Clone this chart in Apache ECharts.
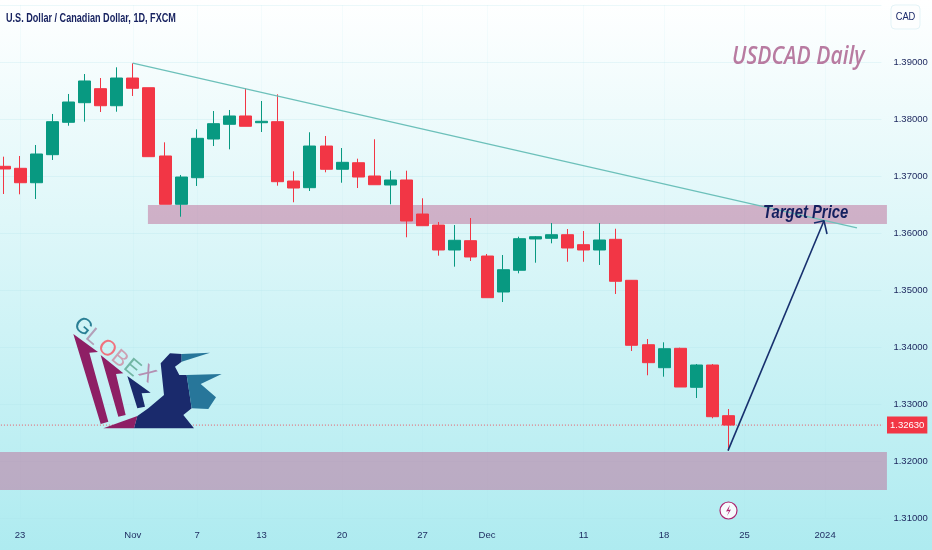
<!DOCTYPE html>
<html><head><meta charset="utf-8">
<style>html,body{margin:0;padding:0;background:#fff}#c{width:932px;height:550px}</style>
<script src="https://cdn.jsdelivr.net/npm/echarts@6/dist/echarts.min.js"></script>
</head><body><div id="c"></div>
<script>
const dates = ['Oct 20','Oct 23','Oct 24','Oct 25','Oct 26','Oct 27','Oct 30','Oct 31','Nov 1','Nov 2','Nov 3','Nov 6','Nov 7','Nov 8','Nov 9','Nov 10','Nov 13','Nov 14','Nov 15','Nov 16','Nov 17','Nov 20','Nov 21','Nov 22','Nov 23','Nov 24','Nov 27','Nov 28','Nov 29','Nov 30','Dec 1','Dec 4','Dec 5','Dec 6','Dec 7','Dec 8','Dec 11','Dec 12','Dec 13','Dec 14','Dec 15','Dec 18','Dec 19','Dec 20','Dec 21','Dec 22','Dec 25','Dec 26','Dec 27','Dec 28','Dec 29','Jan 1','Jan 2','Jan 3','Jan 4'];
const tickLabels = {'Oct 23':'23','Nov 1':'Nov','Nov 7':'7','Nov 13':'13','Nov 20':'20','Nov 27':'27','Dec 1':'Dec','Dec 11':'11','Dec 18':'18','Dec 25':'25','Jan 1':'2024'};
// [open, close, low, high]
const ohlc = [
[1.3717,1.37123,1.36684,1.37339],[1.37135,1.36882,1.36679,1.37351],[1.36882,1.37386,1.36596,1.37544],
[1.37374,1.37953,1.37281,1.38088],[1.37942,1.38298,1.37882,1.38439],[1.38286,1.38667,1.37953,1.38789],
[1.38532,1.38233,1.38123,1.38719],[1.38233,1.38719,1.38128,1.38907],[1.38719,1.38539,1.38404,1.38977],
[1.38549,1.37339,1.37339,1.38549],[1.37351,1.36504,1.36504,1.37591],[1.36504,1.36982,1.36286,1.37018],
[1.3697,1.37661,1.36825,1.37819],[1.37649,1.37918,1.37526,1.3814],[1.37907,1.38053,1.37468,1.38158],
[1.38053,1.37872,1.37872,1.38539],[1.37935,1.3796,1.37772,1.38316],[1.37953,1.369,1.3683,1.38433],
[1.36912,1.36789,1.36539,1.37082],[1.36795,1.37526,1.36737,1.37767],[1.37526,1.37118,1.37065,1.37702],
[1.37118,1.3724,1.36882,1.37491],[1.37233,1.36982,1.36789,1.37304],[1.37,1.36847,1.36847,1.37644],
[1.36842,1.3693,1.36504,1.37093],[1.3693,1.36211,1.35925,1.37093],[1.36333,1.36128,1.36128,1.36609],
[1.3614,1.35702,1.35602,1.36193],[1.35702,1.35872,1.35409,1.3614],[1.35865,1.35579,1.35509,1.36263],
[1.35596,1.34865,1.34865,1.35632],[1.34965,1.35356,1.34789,1.35614],[1.35346,1.359,1.35293,1.35935],
[1.35895,1.35935,1.35479,1.35947],[1.35907,1.3597,1.35819,1.36175],[1.3597,1.35737,1.35496,1.3607],
[1.35795,1.35702,1.35496,1.36035],[1.35702,1.35877,1.35439,1.36175],[1.35889,1.35153,1.3493,1.36075],
[1.3517,1.3403,1.3393,1.35175],[1.3404,1.33725,1.33504,1.3414],[1.33637,1.3397,1.33479,1.34082],
[1.33977,1.33298,1.33298,1.33988],[1.33293,1.33684,1.33105,1.33702],[1.33684,1.32777,1.32749,1.33702],
[1.32795,1.3263,1.32181,1.32912]];
const lastPrice = 1.3263;
// [fromIndex, toIndex, lowPrice, highPrice]
const zones = [[8.94,54.84,1.36158,1.36491],[-0.75,54.84,1.31491,1.32158]];
const trendLine = [[8,1.38982],[52.98,1.36088]];
const targetArrow = [[44.97,1.32181],[50.93,1.36216]];
const arrowBarbs = [[50.31,1.36175],[50.93,1.36216],[51.12,1.35982]];
const priceLine = [[-0.75,lastPrice],[54.84,lastPrice]];

const SANS = '"Liberation Sans",sans-serif';
const NAVY = '#1a2a6c';
const toXY = pts => pts.map(p => [60 + p[0] / 3, 310 + p[1] / 3]);
const logoPolys = [
 {c:'#8e1f65',p:[[40,72],[114,126],[88,128],[145,335],[122,342]]},
 {c:'#8e1f65',p:[[122,135],[190,190],[168,192],[197,315],[175,320]]},
 {c:NAVY,p:[[202,198],[272,248],[245,250],[255,290],[232,295]]},
 {c:NAVY,p:[[330,130],[365,132],[365,155],[345,170],[358,195],[380,195],[395,295],[370,315],[402,355],[222,355],[232,318],[265,295],[312,255],[302,160]]},
 {c:'#8e1f65',p:[[130,355],[232,318],[222,355]]},
 {c:'#27769a',p:[[365,132],[450,128],[365,155]]},
 {c:'#27769a',p:[[380,195],[485,192],[422,222],[468,262],[445,297],[395,295]]}
];
const logoLetters = [['G',83,327,'#2a7f95'],['L',93,337,'#b39fb8'],['O',107,349,'#f0727e'],['B',119.5,359,'#cda0b2'],['E',132,368,'#72b6a4'],['X',147,374,'#b48fb2']];

const graphic = [];
logoPolys.forEach(s => graphic.push({type:'polygon',z:100,shape:{points:toXY(s.p)},style:{fill:s.c},silent:true}));
logoLetters.forEach(l => graphic.push({type:'text',z:101,x:l[1],y:l[2],rotation:-0.7,
  style:{text:l[0],fill:l[3],font:'22px '+SANS,textAlign:'center',textVerticalAlign:'middle'}}));
graphic.push(
 {type:'text',z:100,x:6,y:18,scaleX:0.7,style:{text:'U.S. Dollar / Canadian Dollar, 1D, FXCM',fill:'#16215f',font:'bold 13px '+SANS,textVerticalAlign:'middle'}},
 {type:'text',z:100,x:732,y:57,scaleX:0.81,style:{text:'USDCAD Daily',fill:'#b87ba1',font:'italic 600 26px "Open Sans",sans-serif',textVerticalAlign:'middle'}},
 {type:'text',z:100,x:763,y:213,scaleX:0.825,style:{text:'Target Price',fill:'#15205f',font:'italic bold 18px '+SANS,textVerticalAlign:'middle'}},
 {type:'rect',z:100,shape:{x:891,y:5,width:29,height:24,r:4},style:{fill:'#fdfefe',stroke:'#e3f3f7',lineWidth:1}},
 {type:'text',z:101,x:905.5,y:17,scaleX:0.85,style:{text:'CAD',fill:'#1c2a6a',font:'11px '+SANS,textAlign:'center',textVerticalAlign:'middle'}},
 {type:'circle',z:100,shape:{cx:728.5,cy:510.5,r:8.5},style:{fill:'#f7fbfd',stroke:'#ad2570',lineWidth:1.2}},
 {type:'polygon',z:101,shape:{points:[[730,505],[726,511.5],[729,511],[727,516],[731,509.5],[728.4,510]]},style:{fill:'#ad2570'}}
);

const chart = echarts.init(document.getElementById('c'));
chart.setOption({
 animation:false,
 backgroundColor:new echarts.graphic.LinearGradient(0,0,0,1,[{offset:0,color:'#ffffff'},{offset:1,color:'#aeebf0'}]),
 grid:{left:-4.05,top:5,width:885.5,height:513,containLabel:false,outerBoundsMode:'none'},
 xAxis:[
  {type:'category',data:dates,boundaryGap:true,
   axisLine:{show:false},axisTick:{show:false},
   splitLine:{show:true,alignWithLabel:true,interval:i=>!!tickLabels[dates[i]],lineStyle:{color:'rgba(170,225,232,0.1)'}},
   axisLabel:{interval:i=>!!tickLabels[dates[i]],formatter:v=>tickLabels[v]||'',margin:12,color:'#1c2a5f',fontSize:9.5,fontFamily:SANS}},
  {type:'value',show:false,min:-0.5,max:54.5,splitLine:{show:false}}
 ],
 yAxis:{type:'value',position:'right',min:1.31,max:1.40,interval:0.01,scale:true,
  axisLine:{show:false},axisTick:{show:false},
  splitLine:{lineStyle:{color:'rgba(170,225,232,0.22)'}},
  axisLabel:{margin:12,showMaxLabel:false,formatter:v=>v.toFixed(5),color:'#1f2a60',fontSize:9.5,fontFamily:SANS}},
 series:[
  {type:'custom',xAxisIndex:1,z:1,silent:true,data:zones,
   renderItem:(p,api)=>{
    const a=api.coord([api.value(0),api.value(3)]),b=api.coord([api.value(1),api.value(2)]);
    return {type:'rect',shape:{x:a[0],y:a[1],width:b[0]-a[0],height:b[1]-a[1]},style:{fill:'rgba(189,106,150,0.5)'}};
   }},
  {type:'candlestick',xAxisIndex:0,z:2,barWidth:12.5,data:ohlc,
   itemStyle:{color:'#089981',color0:'#F23645',borderColor:'#089981',borderColor0:'#F23645',borderWidth:1}},
  {type:'line',xAxisIndex:1,z:3,data:priceLine,symbol:'none',clip:false,silent:true,
   lineStyle:{color:'#F23645',width:1,type:[1,2],opacity:.8},
   endLabel:{show:true,formatter:()=>lastPrice.toFixed(5),distance:4,backgroundColor:'#F23645',color:'#fff',
    fontSize:9.5,fontFamily:SANS,padding:[4,3,3,3],align:'left'}},
  {type:'line',xAxisIndex:1,z:4,data:trendLine,symbol:'none',clip:false,silent:true,lineStyle:{color:'#6cc0ba',width:1.3}},
  {type:'line',xAxisIndex:1,z:5,data:targetArrow,symbol:'none',clip:false,silent:true,lineStyle:{color:'#17306e',width:1.6}},
  {type:'line',xAxisIndex:1,z:5,data:arrowBarbs,symbol:'none',clip:false,silent:true,lineStyle:{color:'#17306e',width:1.6}}
 ],
 graphic:graphic
});
</script></body></html>
